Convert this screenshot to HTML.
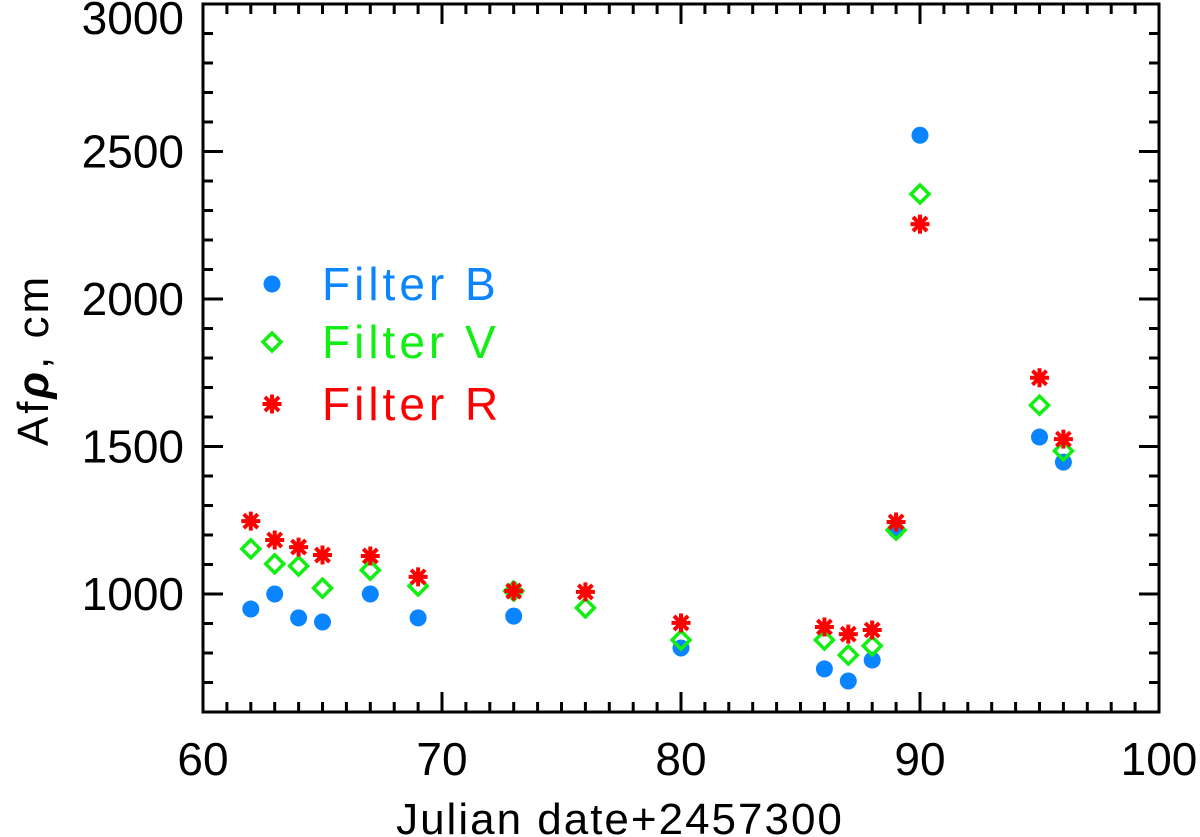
<!DOCTYPE html>
<html><head><meta charset="utf-8"><style>
html,body{margin:0;padding:0;background:#fff;}
svg{display:block;font-family:"Liberation Sans",sans-serif;}
</style></head><body>
<svg id="chart" width="1200" height="837" viewBox="0 0 1200 837" xmlns="http://www.w3.org/2000/svg"></svg>
<script>
const days = [62,63,64,65,67,69,73,76,80,86,87,88,89,90,95,96];
const bDays = [62,63,64,65,67,69,73,80,86,87,88,89,90,95,96];
const bVals = [949,1000,919,905,1000,919,925,817,746,705,776,1217,2555,1532,1447];
const vVals = [1153,1102,1095,1020,1081,1027,1010,953,844,844,793,824,1217,2356,1640,1485];
const rVals = [1247,1183,1159,1132,1129,1058,1010,1007,902,888,864,878,1244,2254,1733,1525];
const xTicks = [60,70,80,90,100];
const yTicks = [1000,1500,2000,2500,3000];

const L=203,R=1159,T=4,B=712,X0=60,X1=100,Y0=600,Y1=3000;
const sx=v=>L+(v-X0)/(X1-X0)*(R-L);
const sy=v=>B-(v-Y0)/(Y1-Y0)*(B-T);
const svg=document.getElementById('chart');
const NS='http://www.w3.org/2000/svg';
function mk(tag,attrs,parent){const e=document.createElementNS(NS,tag);for(const k in attrs)e.setAttribute(k,attrs[k]);(parent||svg).appendChild(e);return e;}

const frame=mk('rect',{x:L,y:T,width:R-L,height:B-T,fill:'none',stroke:'#000','stroke-width':3});



const axes=mk('g',{stroke:'#000','stroke-width':3});


for(let v=X0+1;v<X1;v++){
  const len=(v%10===0)?20:10;const x=sx(v);
  mk('line',{x1:x,y1:B,x2:x,y2:B-len},axes);
  mk('line',{x1:x,y1:T,x2:x,y2:T+len},axes);
}
for(let v=Y0+100;v<Y1;v+=100){
  const len=(v%500===0)?20:10;const y=sy(v);
  mk('line',{x1:L,y1:y,x2:L+len,y2:y},axes);
  mk('line',{x1:R,y1:y,x2:R-len,y2:y},axes);
}
xTicks.forEach(v=>{
  const t=mk('text',{x:sx(v),y:775,'text-anchor':'middle','font-size':46,fill:'#000'});
  t.textContent=v;
  
  
});
yTicks.forEach(v=>{
  const y=Math.max(sy(v)+16,34);
  const t=mk('text',{x:184,y:y,'text-anchor':'end','font-size':46,fill:'#000'});
  t.textContent=v;
  
  
});
const xt=mk('text',{x:620,y:834,'text-anchor':'middle','font-size':44,fill:'#000','letter-spacing':2});
xt.textContent='Julian date+2457300';


const yt=mk('text',{x:0,y:0,'text-anchor':'middle','font-size':44,fill:'#000',transform:'translate(48,360) rotate(-90)','letter-spacing':3});
yt.innerHTML='Af<tspan font-style="italic" font-weight="bold">ρ</tspan>,  cm';



const BLUE='#0a84ff',GREEN='#11ee11',RED='#ff0000';
function circle(x,y,g){const c=mk('circle',{cx:x,cy:y,r:8.5,fill:BLUE},g);return c;}
function diamond(x,y,g){return mk('path',{d:`M${x} ${y-9}L${x+9} ${y}L${x} ${y+9}L${x-9} ${y}Z`,fill:'none',stroke:GREEN,'stroke-width':3.5},g);}
function star(x,y,g){const s=9.5,d=7;return mk('path',{d:`M${x} ${y-s}V${y+s}M${x-s} ${y}H${x+s}M${x-d} ${y-d}L${x+d} ${y+d}M${x-d} ${y+d}L${x+d} ${y-d}`,stroke:RED,'stroke-width':4,fill:'none'},g);}

const gB=mk('g',{});
const gV=mk('g',{});
const gR=mk('g',{});
bDays.forEach((d,i)=>{const e=circle(sx(d),sy(bVals[i]),gB);});
days.forEach((d,i)=>{const e=diamond(sx(d),sy(vVals[i]),gV);});
days.forEach((d,i)=>{const e=star(sx(d),sy(rVals[i]),gR);});

const leg=mk('g',{});
const entries=[['Filter B',BLUE,circle,284],['Filter V',GREEN,diamond,342],['Filter R',RED,star,404]];
entries.forEach(([lab,col,fn,y])=>{
  const g=mk('g',{},leg);
  
  
  fn(272,y,g);
  const t=mk('text',{x:322,y:y+16,'font-size':46,fill:col,'letter-spacing':4},g);
  t.textContent=lab;
});
</script>
</body></html>
